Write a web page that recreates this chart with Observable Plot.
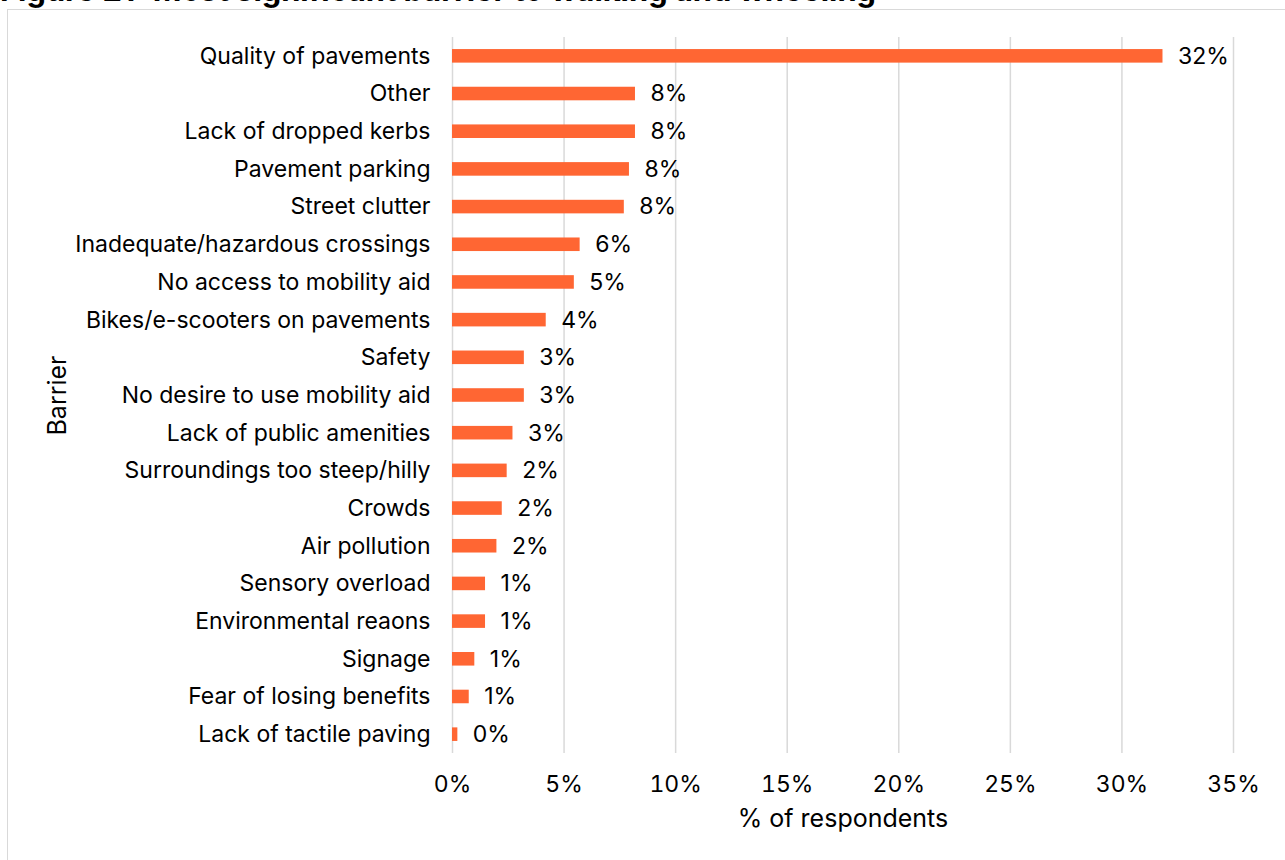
<!DOCTYPE html>
<html>
<head>
<meta charset="utf-8">
<script src="https://cdn.jsdelivr.net/npm/d3@7"></script>
<script src="https://cdn.jsdelivr.net/npm/@observablehq/plot@0.6"></script>
<style>
  html, body { margin: 0; padding: 0; background: #fff; }
  #wrap { position: relative; width: 1285px; height: 860px; overflow: hidden; font-family: Inter, "Noto Sans", sans-serif; }
  #title { position: absolute; left: 0; top: -25px; font-size: 30.8px; font-weight: 700; color: #000; white-space: nowrap; line-height: 30px; }
  #frame { position: absolute; left: 7px; top: 9px; width: 1300px; height: 900px; border: 1.5px solid #d9d9d9; box-sizing: border-box; }
  #chart { position: absolute; left: 0; top: 0; }
</style>
</head>
<body>
<div id="wrap">
  <div id="title">Figure 21: Most significant barrier to walking and wheeling</div>
  <div id="frame"></div>
  <div id="chart"></div>
</div>
<script>
const barriers = [
  "Quality of pavements",
  "Other",
  "Lack of dropped kerbs",
  "Pavement parking",
  "Street clutter",
  "Inadequate/hazardous crossings",
  "No access to mobility aid",
  "Bikes/e-scooters on pavements",
  "Safety",
  "No desire to use mobility aid",
  "Lack of public amenities",
  "Surroundings too steep/hilly",
  "Crowds",
  "Air pollution",
  "Sensory overload",
  "Environmental reaons",
  "Signage",
  "Fear of losing benefits",
  "Lack of tactile paving"
];
const shares = [31.84, 8.2, 8.2, 7.93, 7.7, 5.72, 5.46, 4.2, 3.22, 3.22, 2.71, 2.45, 2.23, 1.99, 1.48, 1.48, 1.0, 0.75, 0.24];
const xTicks = [0, 5, 10, 15, 20, 25, 30, 35];
const xTitle = "% of respondents";
const yTitle = "Barrier";

const data = barriers.map((b, i) => ({barrier: b, value: shares[i], label: Math.round(shares[i]) + "%"}));

const chart = Plot.plot({
  width: 1285,
  height: 860,
  marginLeft: 452,
  marginRight: 52,
  marginTop: 37,
  marginBottom: 107,
  style: {fontFamily: "Inter, 'Noto Sans', sans-serif", fontSize: "23px", color: "#000", background: "transparent"},
  x: {domain: [0, 35], ticks: xTicks, tickFormat: d => d + "%", label: null},
  y: {domain: barriers, paddingInner: 0.64, paddingOuter: 0.32, round: false, label: null},
  marks: [
    Plot.gridX(xTicks, {stroke: "#d9d9d9", strokeOpacity: 1, strokeWidth: 1.5}),
    Plot.axisX({ticks: xTicks, tickFormat: d => d + "%", tickSize: 0, tickPadding: 22, label: null, fontSize: 23}),
    Plot.axisY({tickSize: 0, tickPadding: 22, label: null, fontSize: 23}),
    Plot.barX(data, {x: "value", y: "barrier", fill: "#ff6633"}),
    Plot.text(data, {x: "value", y: "barrier", text: "label", textAnchor: "start", dx: 15, fontSize: 23, fill: "#000"}),
    Plot.text([xTitle], {frameAnchor: "bottom", lineAnchor: "middle", textAnchor: "middle", dy: 65, text: d => d, fontSize: 25, fill: "#000"}),
    Plot.text([yTitle], {frameAnchor: "left", lineAnchor: "middle", textAnchor: "middle", dx: -395, rotate: -90, text: d => d, fontSize: 25, fill: "#000"})
  ]
});
document.getElementById("chart").appendChild(chart);
</script>
</body>
</html>
